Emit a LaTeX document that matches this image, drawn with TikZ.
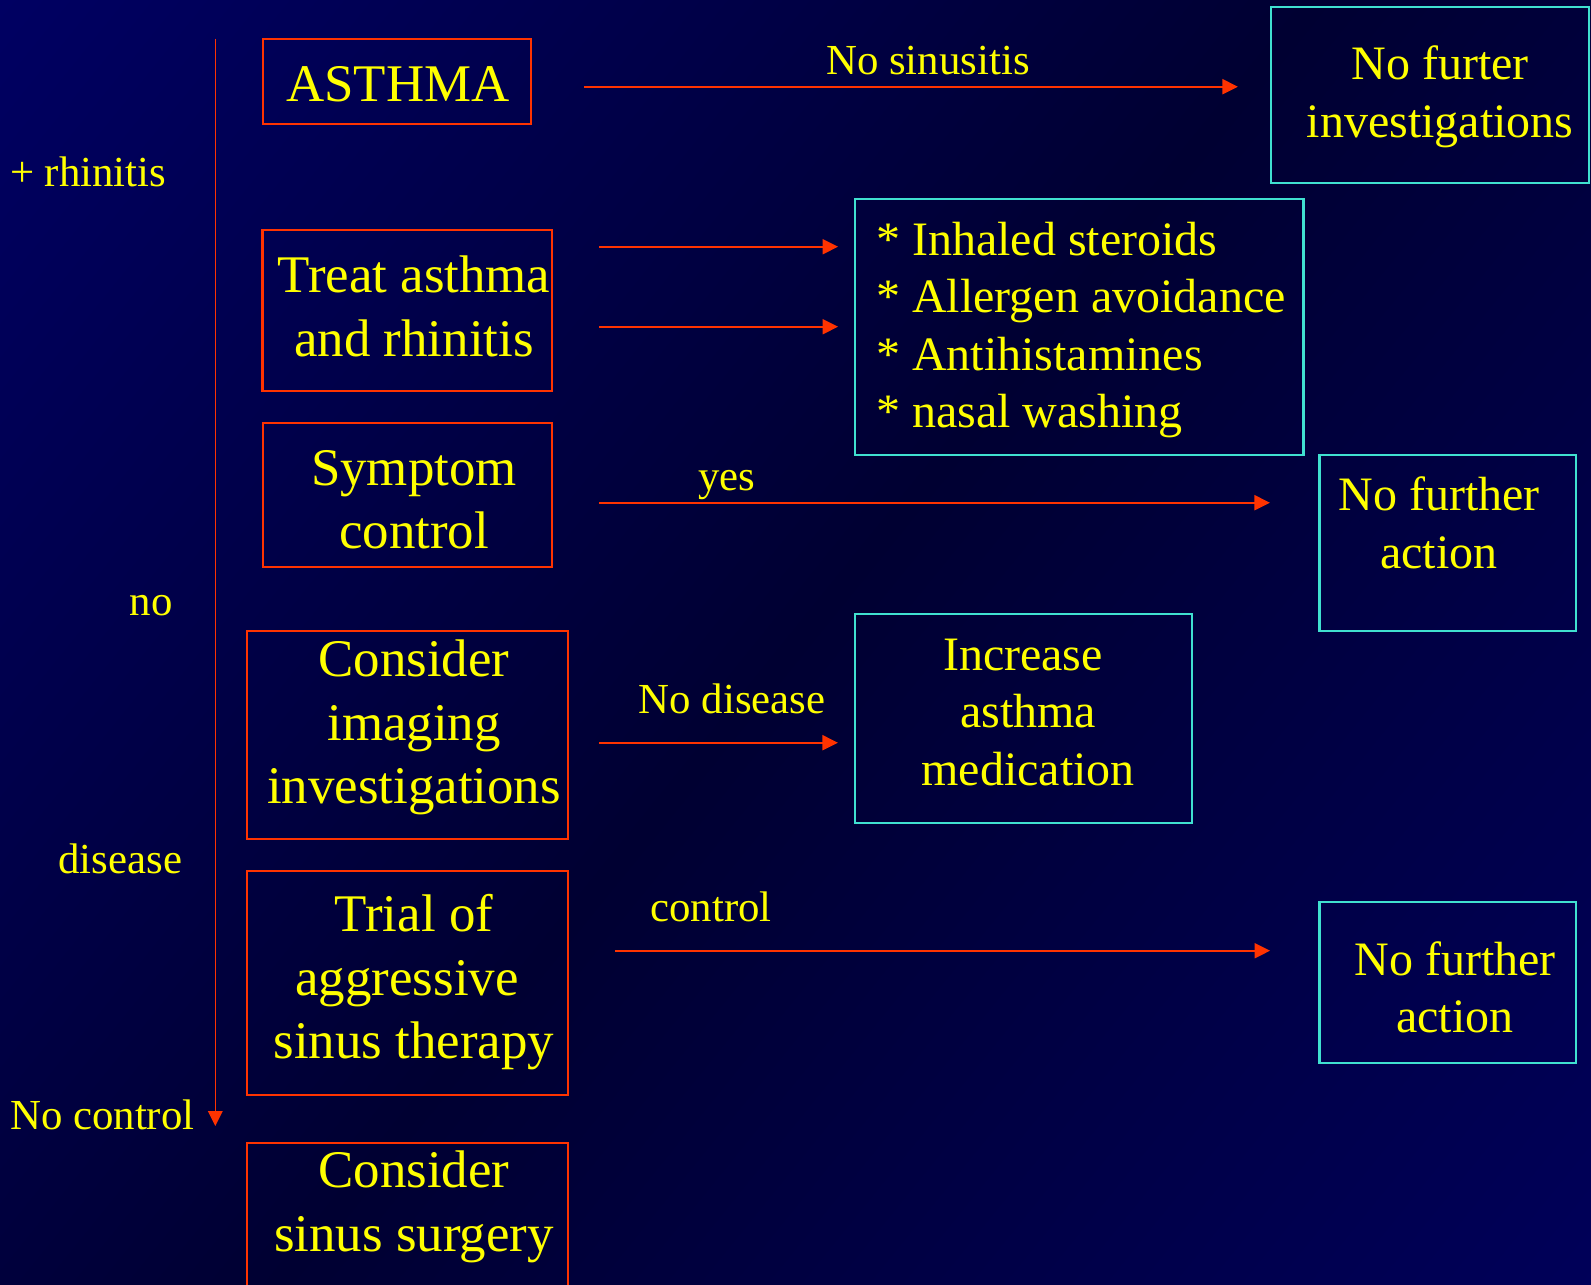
\documentclass[tikz,border=0pt]{standalone}
\usepackage{fontspec}
\setmainfont{Liberation Serif}
\usetikzlibrary{arrows.meta}
\definecolor{bgA}{RGB}{0,0,118}
\definecolor{bgB}{RGB}{0,0,50}
\definecolor{bgC}{RGB}{0,0,105}
\definecolor{yel}{RGB}{255,255,0}
\definecolor{redl}{RGB}{255,51,0}
\definecolor{cyanl}{RGB}{64,224,208}
\pgfdeclarehorizontalshading{bgshade}{100bp}{color(0bp)=(bgA); color(50bp)=(bgB); color(100bp)=(bgC)}
\begin{document}
\begin{tikzpicture}[x=1pt,y=-1pt,
 redbox/.style={draw=redl, line width=2.2pt, inner sep=0pt},
 cyanbox/.style={draw=cyanl, line width=2.2pt, inner sep=0pt},
 bigtxt/.style={text=yel, align=center, anchor=north, inner sep=0pt, font=\fontsize{52.9}{63.5}\selectfont},
 medtxt/.style={text=yel, align=center, anchor=north, inner sep=0pt, font=\fontsize{48}{57.5}\selectfont},
 lbl/.style={text=yel, anchor=base, inner sep=0pt, font=\fontsize{42.8}{51}\selectfont},
 arr/.style={draw=redl, line width=2pt, -{Triangle[length=15.5pt,width=15pt]}},
]
\useasboundingbox (0,0) rectangle (1591,1285);
\shade[shading=bgshade, shading angle=-39] (0,0) rectangle (1591,1285);

% boxes
\node[redbox, minimum width=267.9pt, minimum height=85.3pt] (asthma) at (397.25,81.35) {};
\node[redbox, minimum width=289.4pt, minimum height=160.4pt] (treat) at (407.2,310.5) {};
\node[redbox, minimum width=288.6pt, minimum height=144pt] (symptom) at (407.3,494.7) {};
\node[redbox, minimum width=321.1pt, minimum height=208pt] (imaging) at (407.25,734.7) {};
\node[redbox, minimum width=321.1pt, minimum height=224.3pt] (trial) at (407.25,982.85) {};
\node[redbox, minimum width=321.1pt, minimum height=157.3pt] (surgery) at (407.25,1221.35) {};
\node[cyanbox, minimum width=318pt, minimum height=176pt] (nofurter) at (1430,94.7) {};
\node[cyanbox, minimum width=448.1pt, minimum height=256pt] (list) at (1079.35,327) {};
\node[cyanbox, minimum width=256.5pt, minimum height=176.3pt] (nfa1) at (1447.75,542.85) {};
\node[cyanbox, minimum width=336.6pt, minimum height=209pt] (increase) at (1023.6,718.8) {};
\node[cyanbox, minimum width=256.5pt, minimum height=161pt] (nfa2) at (1447.75,982.8) {};

% box texts
\node[bigtxt] (tasthma) at (397.8,57.3) {\strut ASTHMA};
\node[bigtxt] (ttreat) at (414,248.25) {\strut Treat asthma\\and rhinitis};
\node[bigtxt] (tsymptom) at (414,440.55) {\strut Symptom\\control};
\node[bigtxt] (timaging) at (414,632.25) {\strut Consider\\imaging\\investigations};
\node[bigtxt] (ttrial) at (414,887.25) {\strut Trial of\\aggressive\hbox to 14pt{}\\sinus therapy};
\node[bigtxt] (tsurgery) at (414,1142.85) {\strut Consider\\sinus surgery};
\node[medtxt] (tnofurter) at (1440,39.05) {\strut No furter\\investigations};
\node[medtxt, align=left, anchor=north west] (tlist) at (876,214.75) {\strut * Inhaled steroids\\* Allergen avoidance\\* Antihistamines\\* nasal washing};
\node[medtxt] (tnfa1) at (1439,470.45) {\strut No further\\action};
\node[medtxt] (tincrease) at (1028,629.75) {\strut Increase\hspace*{10pt}\\asthma\\medication};
\node[medtxt] (tnfa2) at (1455,934.75) {\strut No further\\action};

% labels
\node[lbl, anchor=base west] (lrhin) at (10,186.7) {+ rhinitis};
\node[lbl] (lnosin) at (928,74) {No sinusitis};
\node[lbl] (lyes) at (727,490) {yes};
\node[lbl] (lno) at (151.2,615) {no};
\node[lbl] (lnodis) at (732.2,713.3) {No disease};
\node[lbl] (ldis) at (120.2,873.3) {disease};
\node[lbl] (lctrl) at (711.2,921.7) {control};
\node[lbl, anchor=base west] (lnoctrl) at (10,1129.3) {No control};

% connectors
\coordinate (vtop) at (215.3,38.5);
\coordinate (vbot) at (215.3,1126);
\draw[draw=redl, line width=1.6pt, -{Triangle[length=15pt,width=14.6pt]}] (vtop) -- (vbot);

\draw[arr, shorten <=51.8pt, shorten >=32pt] (asthma.east |- 0,86.7) -- (nofurter.west |- 0,86.7);
\draw[arr, shorten <=46.1pt, shorten >=16.1pt] (treat.east |- 0,246.7) -- (list.west |- 0,246.7);
\draw[arr, shorten <=46.1pt, shorten >=16.1pt] (treat.east |- 0,326.7) -- (list.west |- 0,326.7);
\draw[arr, shorten <=46.4pt, shorten >=48.5pt] (symptom.east |- 0,502.7) -- (nfa1.west |- 0,502.7);
\draw[arr, shorten <=30.2pt, shorten >=16.3pt] (imaging.east |- 0,742.7) -- (increase.west |- 0,742.7);
\draw[arr, shorten <=46.4pt, shorten >=48.3pt] (trial.east |- 0,950.7) -- (nfa2.west |- 0,950.7);
\end{tikzpicture}
\end{document}
